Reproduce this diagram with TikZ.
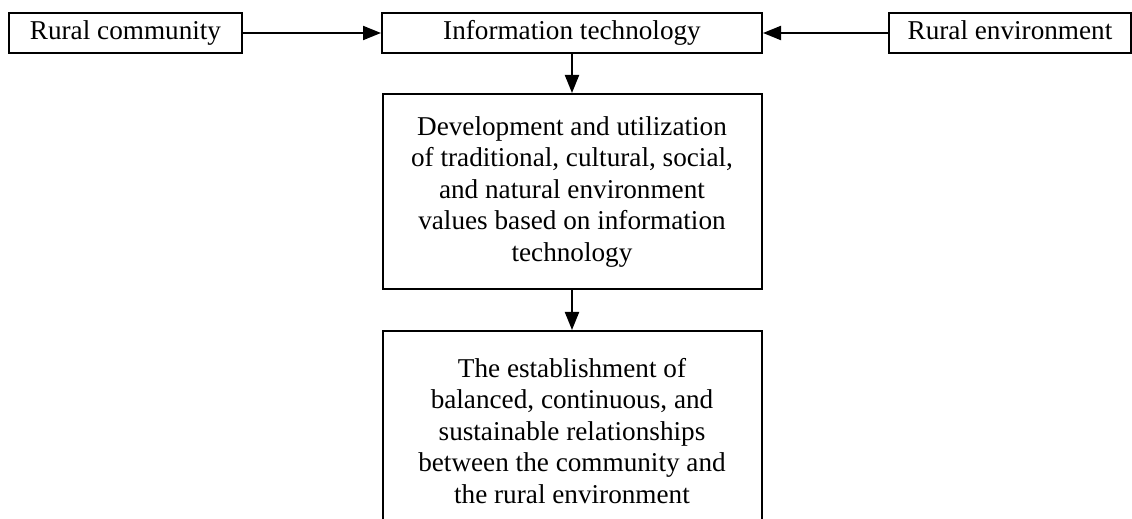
\documentclass[tikz,border=0pt]{standalone}
\usepackage{fontspec}
\setmainfont{Liberation Serif}
\usetikzlibrary{arrows.meta,positioning}
\tikzset{
  bx/.style={draw=black, line width=1pt, align=center, inner sep=2pt, font=\fontsize{13.6}{15.75}\selectfont},
  top/.style={bx, minimum height=20pt, text height=0.68em, text depth=0pt},
  big/.style={bx, minimum width=189.5pt, minimum height=97.5pt},
  arr/.style={-{Triangle[length=9pt,width=7pt]}, line width=1pt},
}
\begin{document}
\begin{tikzpicture}[x=0.5pt,y=-0.5pt]
  \useasboundingbox (0,0) rectangle (1132,519);
  % top row
  \node[top, minimum width=116.5pt] (rc) at (125.5,33) {Rural community};
  \node[top, minimum width=190pt] (it) at (572,33) {Information technology};
  \node[top, minimum width=121pt] (re) at (1010,33) {Rural environment};
  % stacked boxes
  \node[big, below=19.5pt of it] (dev) {Development and utilization\\
    of traditional, cultural, social,\\
    and natural environment\\
    values based on information\\
    technology};
  \node[big, minimum height=100pt, below=20pt of dev] (est) {The establishment of\\
    balanced, continuous, and\\
    sustainable relationships\\
    between the community and\\
    the rural environment};
  \draw[arr] (rc) -- (it);
  \draw[arr] (re) -- (it);
  \draw[arr] (it) -- (dev);
  \draw[arr] (dev) -- (est);
\end{tikzpicture}
\end{document}
